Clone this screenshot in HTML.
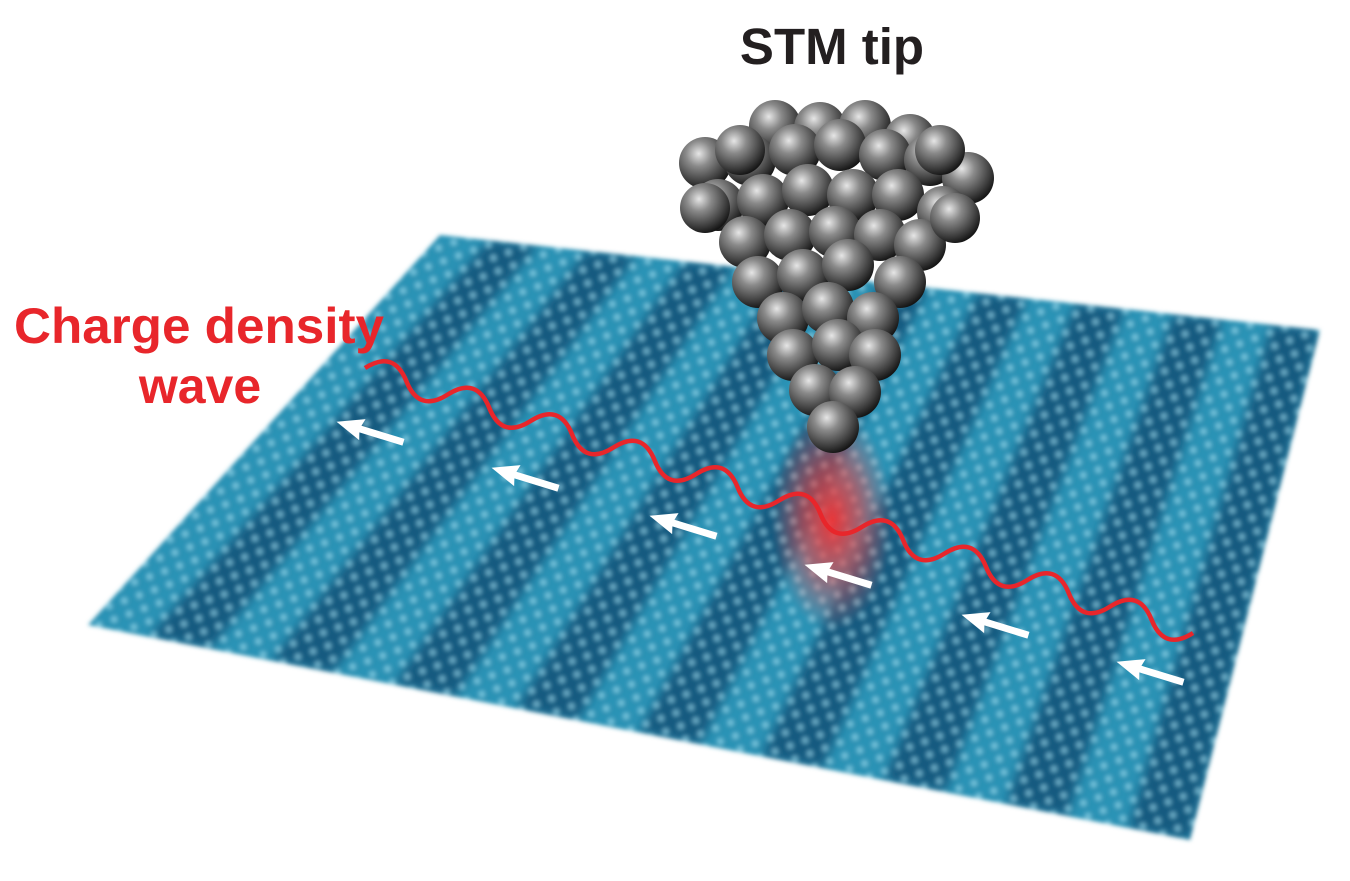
<!DOCTYPE html>
<html><head><meta charset="utf-8"><style>
html,body{margin:0;padding:0;background:#fff;}
svg{display:block;}
</style></head><body>
<svg width="1350" height="881" viewBox="0 0 1350 881" xmlns="http://www.w3.org/2000/svg">
<defs>
<radialGradient id="sp" cx="0.38" cy="0.32" r="0.7">
<stop offset="0" stop-color="#e6e6e6"/><stop offset="0.35" stop-color="#8a8a8a"/><stop offset="0.8" stop-color="#3a3a3a"/><stop offset="1" stop-color="#151515"/>
</radialGradient>
<radialGradient id="glow" cx="0.5" cy="0.5" r="0.5">
<stop offset="0" stop-color="#ff2a2a" stop-opacity="0.9"/><stop offset="0.5" stop-color="#f04040" stop-opacity="0.55"/><stop offset="1" stop-color="#ff6060" stop-opacity="0"/>
</radialGradient>
<radialGradient id="bump" cx="0.45" cy="0.35" r="0.55">
<stop offset="0" stop-color="#d8f6ff" stop-opacity="0.75"/><stop offset="0.6" stop-color="#5fc6e0" stop-opacity="0.3"/><stop offset="1" stop-color="#000" stop-opacity="0"/>
</radialGradient>
<pattern id="dots" width="16" height="14" patternUnits="userSpaceOnUse" patternTransform="rotate(-20)">
<ellipse cx="8" cy="7" rx="6" ry="6.5" fill="url(#bump)"/>
</pattern>
<filter id="bl" x="-10%" y="-10%" width="120%" height="120%"><feGaussianBlur stdDeviation="5"/></filter>
<filter id="edge" x="-5%" y="-5%" width="110%" height="110%"><feGaussianBlur stdDeviation="2"/></filter>
<clipPath id="surf"><polygon points="440,235 1320,330 1190,840 88,625"/></clipPath>
</defs>

<g filter="url(#edge)">
<g clip-path="url(#surf)">
<polygon points="440,235 1320,330 1190,840 88,625" fill="#2c93b6"/>
<g fill="#135a80" filter="url(#bl)">
<polygon points="488.9,240.3 537.8,245.6 210.4,648.9 149.2,637"/>
<polygon points="586.7,250.8 635.6,256.1 332.9,672.8 271.7,660.8"/>
<polygon points="684.4,261.4 733.3,266.7 455.3,696.7 394.1,684.7"/>
<polygon points="782.2,271.9 831.1,277.2 577.8,720.6 516.6,708.6"/>
<polygon points="880,282.5 928.9,287.8 700.2,744.4 639,732.5"/>
<polygon points="977.8,293.1 1026.7,298.3 822.7,768.3 761.4,756.4"/>
<polygon points="1075.6,303.6 1124.4,308.9 945.1,792.2 883.9,780.3"/>
<polygon points="1173.3,314.2 1222.2,319.4 1067.6,816.1 1006.3,804.2"/>
<polygon points="1271.1,324.7 1320,330 1190,840 1128.8,828.1"/>
</g>
<rect x="0" y="200" width="1350" height="700" fill="url(#dots)"/>
<ellipse cx="832" cy="520" rx="60" ry="110" fill="url(#glow)"/>
</g>
</g>

<!-- tip spheres -->
<g fill="url(#sp)">
<circle cx="775" cy="126" r="26"/><circle cx="820" cy="128" r="26"/><circle cx="865" cy="126" r="26"/><circle cx="910" cy="140" r="26"/>
<circle cx="705" cy="163" r="26"/><circle cx="750" cy="160" r="26"/><circle cx="795" cy="150" r="26"/><circle cx="840" cy="145" r="26"/><circle cx="885" cy="155" r="26"/><circle cx="930" cy="160" r="26"/><circle cx="968" cy="178" r="26"/>
<circle cx="718" cy="205" r="26"/><circle cx="763" cy="200" r="26"/><circle cx="808" cy="190" r="26"/><circle cx="853" cy="195" r="26"/><circle cx="898" cy="195" r="26"/><circle cx="943" cy="212" r="26"/>
<circle cx="745" cy="242" r="26"/><circle cx="790" cy="235" r="26"/><circle cx="835" cy="232" r="26"/><circle cx="880" cy="235" r="26"/><circle cx="920" cy="245" r="26"/>
<circle cx="758" cy="282" r="26"/><circle cx="803" cy="275" r="26"/><circle cx="848" cy="265" r="26"/><circle cx="900" cy="282" r="26"/>
<circle cx="783" cy="318" r="26"/><circle cx="828" cy="308" r="26"/><circle cx="873" cy="318" r="26"/>
<circle cx="793" cy="355" r="26"/><circle cx="838" cy="345" r="26"/><circle cx="875" cy="355" r="26"/>
<circle cx="815" cy="390" r="26"/><circle cx="855" cy="392" r="26"/>
<circle cx="833" cy="427" r="26"/>
<circle cx="705" cy="208" r="25"/><circle cx="740" cy="150" r="25"/><circle cx="940" cy="150" r="25"/><circle cx="955" cy="218" r="25"/>
</g>

<!-- wave -->
<path d="M365,368 q28.8,-18.4 41.4,13.25 t41.4,13.25 t41.4,13.25 t41.4,13.25 t41.4,13.25 t41.4,13.25 t41.4,13.25 t41.4,13.25 t41.4,13.25 t41.4,13.25 t41.4,13.25 t41.4,13.25 t41.4,13.25 t41.4,13.25 t41.4,13.25 t41.4,13.25 t41.4,13.25 t41.4,13.25 t41.4,13.25 t41.4,13.25" fill="none" stroke="#e8262b" stroke-width="4.5"/>

<!-- arrows -->
<g fill="#fff">
<g transform="translate(370,432) rotate(17)"><polygon points="-35,0 -8,-11 -10,-3.5 35,-3.5 35,3.5 -10,3.5 -8,11"/></g>
<g transform="translate(525,478) rotate(17)"><polygon points="-35,0 -8,-11 -10,-3.5 35,-3.5 35,3.5 -10,3.5 -8,11"/></g>
<g transform="translate(683,526) rotate(17)"><polygon points="-35,0 -8,-11 -10,-3.5 35,-3.5 35,3.5 -10,3.5 -8,11"/></g>
<g transform="translate(838,575) rotate(17)"><polygon points="-35,0 -8,-11 -10,-3.5 35,-3.5 35,3.5 -10,3.5 -8,11"/></g>
<g transform="translate(995,625) rotate(17)"><polygon points="-35,0 -8,-11 -10,-3.5 35,-3.5 35,3.5 -10,3.5 -8,11"/></g>
<g transform="translate(1150,672) rotate(17)"><polygon points="-35,0 -8,-11 -10,-3.5 35,-3.5 35,3.5 -10,3.5 -8,11"/></g>
</g>

<text x="832" y="64" text-anchor="middle" font-family="Liberation Sans, sans-serif" font-weight="bold" font-size="51" fill="#231f20">STM tip</text>
<text x="14" y="343" font-family="Liberation Sans, sans-serif" font-weight="bold" font-size="50" fill="#e8262b" textLength="370" lengthAdjust="spacingAndGlyphs">Charge density</text>
<text x="200" y="403" text-anchor="middle" font-family="Liberation Sans, sans-serif" font-weight="bold" font-size="50" fill="#e8262b">wave</text>
</svg>
</body></html>
